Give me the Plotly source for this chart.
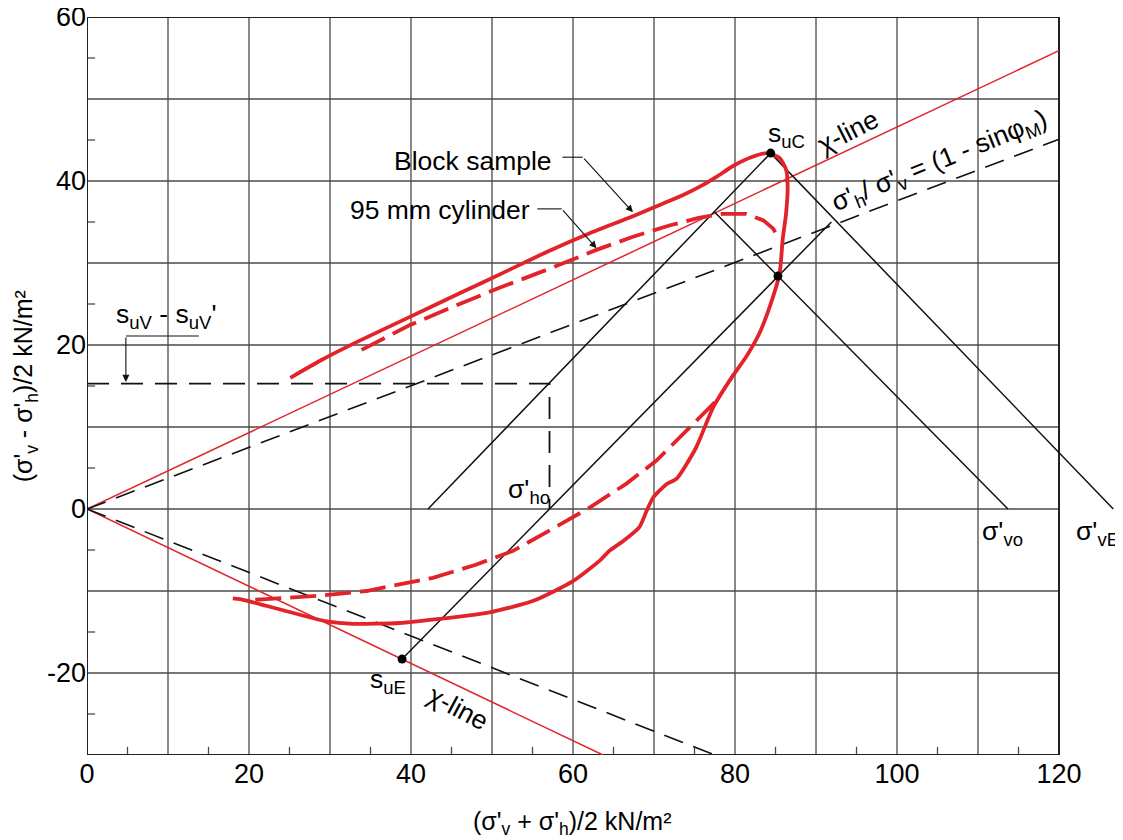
import plotly.graph_objects as go

RED = "#e2232a"
BLACK = "#111111"
GRID = "#4a4a4a"
FONT = "Liberation Sans, Arial, sans-serif"

# axis ticks / grid
x_tick_vals = [0, 20, 40, 60, 80, 100, 120]
x_tick_text = ["0", "20", "40", "60", "80", "100", "120"]
y_tick_vals = [-20, 0, 20, 40, 60]
y_tick_text = ["-20", "0", "20", "40", "60"]
x_grid = [10, 20, 30, 40, 50, 60, 70, 80, 90, 100, 110]
y_grid = [-20, -10, 0, 10, 20, 30, 40, 50]
x_minor = [5, 15, 25, 35, 45, 55, 65, 75, 85, 95, 105, 115]
y_minor = [-25, -15, -5, 5, 15, 25, 35, 45, 55]

# stress paths
block_x = [25.1, 29.0, 33.6, 39.8, 46.0, 52.0, 57.1, 62.0, 67.4, 71.0, 73.6, 76.0, 77.7, 79.7,
           82.0, 84.0, 85.5, 86.3, 86.5, 86.3, 85.9, 85.5, 84.3, 83.0, 81.4, 79.7, 77.3, 75.2,
           72.8, 71.5, 69.9, 69.1, 68.2, 66.2, 64.5, 63.3, 60.0, 55.1, 49.7, 43.5, 38.6, 32.8,
           29.6, 26.3, 22.1, 18.9, 18.0]
block_y = [16.0, 18.2, 20.5, 23.4, 26.3, 29.1, 31.5, 33.6, 35.7, 37.2, 38.3, 39.5, 40.5, 41.8,
           42.9, 43.4, 42.8, 41.4, 39.4, 36.0, 33.0, 28.7, 24.7, 21.4, 18.6, 16.2, 12.4, 7.5,
           3.7, 3.0, 1.4, -0.2, -2.2, -3.9, -5.1, -6.3, -8.8, -11.2, -12.6, -13.4, -13.9, -14.0,
           -13.7, -12.9, -11.8, -11.0, -10.9]

cyl_x = [33.9, 39.8, 45.0, 51.0, 57.1, 62.9, 67.4, 72.0, 75.5, 78.5, 81.4, 83.5, 84.7, 85.3,
         None,
         77.5, 74.4, 70.3, 66.6, 62.1, 57.5, 52.6, 48.0, 42.7, 34.5, 28.3, 22.1, 20.1]
cyl_y = [19.4, 22.4, 24.6, 27.0, 29.3, 31.6, 33.2, 34.6, 35.5, 36.0, 36.0, 35.2, 34.2, 33.2,
         None,
         13.0, 10.0, 5.9, 3.1, 0.2, -2.4, -5.1, -6.8, -8.4, -10.0, -10.6, -11.0, -11.1]

# reference lines
chi_up_x, chi_up_y = [0, 120], [0, 55.9]
chi_lo_x, chi_lo_y = [0, 63.7], [0, -30]
k0_up_x, k0_up_y = [0, 120], [0, 45.1]
k0_lo_x, k0_lo_y = [0, 77.5], [0, -30]

# total stress lines
tsp_a_x, tsp_a_y = [42.1, 84.4, 126.7], [0, 43.4, 0]
tsp_c_x, tsp_c_y = [38.9, 91.9], [-18.3, 35.0]
tsp_d_x, tsp_d_y = [77.5, 113.7], [36.2, 0]
suv_x, suv_y = [0, 57.1, 57.1], [15.3, 15.3, 0]

pts_x = [84.4, 38.9, 85.3]
pts_y = [43.4, -18.3, 28.4]

fig = go.Figure()

def line(x, y, color, width, dash="solid"):
    fig.add_trace(go.Scatter(x=x, y=y, mode="lines", line=dict(color=color, width=width, dash=dash),
                             hoverinfo="skip", showlegend=False))

line(chi_up_x, chi_up_y, RED, 1.5)
line(chi_lo_x, chi_lo_y, RED, 1.5)
line(k0_up_x, k0_up_y, BLACK, 1.6, "20px,11px")
line(k0_lo_x, k0_lo_y, BLACK, 1.6, "20px,11px")
line(suv_x, suv_y, BLACK, 1.8, "22px,12px")
line(tsp_a_x, tsp_a_y, BLACK, 1.5)
line(tsp_c_x, tsp_c_y, BLACK, 1.5)
line(tsp_d_x, tsp_d_y, BLACK, 1.5)
line(cyl_x, cyl_y, RED, 3.8, "26px,9px")
fig.add_trace(go.Scatter(x=block_x, y=block_y, mode="lines",
                         line=dict(color=RED, width=3.8, shape="spline", smoothing=0.6),
                         hoverinfo="skip", showlegend=False))
fig.add_trace(go.Scatter(x=pts_x, y=pts_y, mode="markers", marker=dict(color="black", size=9),
                         hoverinfo="skip", showlegend=False, cliponaxis=False))

# leader lines
lead_block_x, lead_block_y = [58.7, 61.2], [42.9, 42.9]
lead_cyl_x, lead_cyl_y = [55.6, 58.6], [36.6, 36.6]
lead_suv_x, lead_suv_y = [13.8, 4.8], [21.1, 21.1]
line(lead_block_x, lead_block_y, BLACK, 1.1)
line(lead_cyl_x, lead_cyl_y, BLACK, 1.1)
line(lead_suv_x, lead_suv_y, BLACK, 1.1)

arrows = [((61.2, 42.9), (67.4, 36.2)), ((58.6, 36.6), (62.9, 31.8)), ((4.8, 21.1), (4.8, 15.5))]
for (sx, sy), (tx, ty) in arrows:
    fig.add_annotation(x=tx, y=ty, ax=sx, ay=sy, xref="x", yref="y", axref="x", ayref="y",
                       text="", showarrow=True, arrowhead=2, arrowsize=1.3, arrowwidth=1.1,
                       arrowcolor=BLACK)

# shapes: grid, frame, minor ticks
shapes = []
for gx in x_grid:
    shapes.append(dict(type="line", xref="x", yref="y", x0=gx, x1=gx, y0=-30, y1=60,
                       line=dict(color=GRID, width=1.3), layer="below"))
for gy in y_grid:
    shapes.append(dict(type="line", xref="x", yref="y", x0=0, x1=120, y0=gy, y1=gy,
                       line=dict(color=GRID, width=1.3), layer="below"))
for mx in x_minor:
    shapes.append(dict(type="line", xref="x", yref="y", x0=mx, x1=mx, y0=-30, y1=-29.0,
                       line=dict(color=GRID, width=1.3), layer="below"))
for my in y_minor:
    shapes.append(dict(type="line", xref="x", yref="y", x0=0, x1=1.0, y0=my, y1=my,
                       line=dict(color=GRID, width=1.3), layer="below"))
shapes.append(dict(type="rect", xref="x", yref="y", x0=0, x1=120, y0=-30, y1=60,
                   line=dict(color="#222222", width=2), layer="below"))

def txt(x, y, s, size=26.5, angle=0, xanchor="center", yanchor="middle"):
    fig.add_annotation(x=x, y=y, xref="x", yref="y", text=s, showarrow=False, textangle=angle,
                       font=dict(family=FONT, size=size, color="black"),
                       xanchor=xanchor, yanchor=yanchor)

txt(47.6, 42.4, "Block sample")
txt(43.6, 36.5, "95 mm cylinder")
txt(83.8, 45.6, "s<sub>uC</sub>", xanchor="left")
txt(93.9, 46.0, "χ-line", angle=-27)
txt(105.3, 42.3, "σ'<sub>h</sub>/ σ'<sub>v</sub> = (1 - sinφ<sub>M</sub>)", angle=-22)
txt(113.05, -2.9, "σ'<sub>vo</sub>")
txt(127.6, -2.9, "σ'<sub>vE</sub>", xanchor="right")
txt(54.6, 2.2, "σ'<sub>ho</sub>")
txt(9.7, 23.5, "s<sub>uV</sub> - s<sub>uV</sub>'")
txt(37.1, -21.0, "s<sub>uE</sub>")
txt(45.8, -24.3, "χ-line", angle=28)

# axis titles
fig.add_annotation(x=0.469, y=-0.092, xref="paper", yref="paper", showarrow=False,
                   text="(σ'<sub>v</sub> + σ'<sub>h</sub>)/2 kN/m²",
                   font=dict(family=FONT, size=25, color="black"), xanchor="center", yanchor="middle")
fig.add_annotation(x=-0.0595, y=0.5, xref="paper", yref="paper", showarrow=False, textangle=-90,
                   text="(σ'<sub>v</sub> - σ'<sub>h</sub>)/2 kN/m²",
                   font=dict(family=FONT, size=25, color="black"), xanchor="center", yanchor="middle")

fig.update_layout(
    width=1115, height=832,
    margin=dict(l=79, r=0, t=9, b=85),
    paper_bgcolor="white", plot_bgcolor="white",
    shapes=shapes,
    showlegend=False,
    font=dict(family=FONT, color="black"),
    xaxis=dict(range=[0, 127.9], tickvals=x_tick_vals, ticktext=x_tick_text, showgrid=False,
               zeroline=False, showline=False, ticks="", automargin=False,
               ticklabeloverflow="allow",
               tickfont=dict(family=FONT, size=27, color="black"), fixedrange=True),
    yaxis=dict(range=[-30, 60], tickvals=y_tick_vals, ticktext=y_tick_text, showgrid=False,
               zeroline=False, showline=False, ticks="", automargin=False,
               ticklabeloverflow="allow",
               tickfont=dict(family=FONT, size=27, color="black"), fixedrange=True),
)

fig.write_html("out.html")
